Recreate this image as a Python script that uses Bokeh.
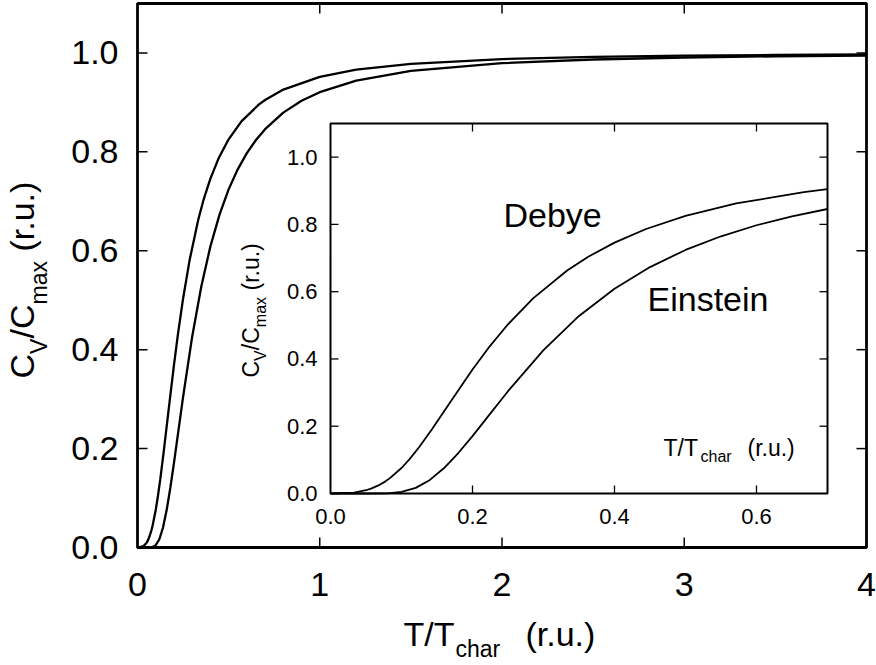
import math
from bokeh.plotting import figure
from bokeh.models import Range1d
from bokeh.core.properties import value
from bokeh.embed import file_html
from bokeh.resources import INLINE

# ---------------- data ----------------
debye_t = [0.0, 0.0333, 0.05, 0.0571, 0.0667, 0.0769, 0.0833, 0.1, 0.1111, 0.125,
           0.1429, 0.1667, 0.2, 0.2222, 0.25, 0.2857, 0.3333, 0.3636, 0.4, 0.4444,
           0.5, 0.5714, 0.6667, 0.7, 0.8, 1.0, 1.2, 1.5, 2.0, 2.5, 3.0, 3.5, 4.0]
debye_c = [0.0, 0.0029, 0.0097, 0.0145, 0.0232, 0.0354, 0.0450, 0.0758, 0.1015, 0.1382,
           0.1909, 0.2656, 0.3686, 0.4320, 0.5031, 0.5807, 0.6628, 0.7046, 0.7459, 0.7864,
           0.8254, 0.8622, 0.8960, 0.9049, 0.9260, 0.9517, 0.9661, 0.9781, 0.9876, 0.9920,
           0.9944, 0.9959, 0.9969]

einstein_t = [0.0, 0.05, 0.08, 0.1, 0.12, 0.14, 0.16, 0.18, 0.2, 0.22, 0.25, 0.3, 0.35,
              0.4, 0.45, 0.5, 0.55, 0.6, 0.65, 0.7, 0.8, 0.9, 1.0, 1.2, 1.5, 2.0, 2.5,
              3.0, 3.5, 4.0]
einstein_c = [0.0, 0.0, 0.0006, 0.0045, 0.0167, 0.0404, 0.0757, 0.1203, 0.1707, 0.2241,
              0.3041, 0.4263, 0.5278, 0.6089, 0.6731, 0.7241, 0.7647, 0.7975, 0.8240,
              0.8458, 0.8794, 0.9032, 0.9207, 0.9441, 0.9638, 0.9794, 0.9868, 0.9908,
              0.9932, 0.9948]

main_xticks = [0, 1, 2, 3, 4]
main_xlabels = ["0", "1", "2", "3", "4"]
main_yticks = [0.0, 0.2, 0.4, 0.6, 0.8, 1.0]
main_ylabels = ["0.0", "0.2", "0.4", "0.6", "0.8", "1.0"]
inset_xticks = [0.0, 0.2, 0.4, 0.6]
inset_xlabels = ["0.0", "0.2", "0.4", "0.6"]
inset_yticks = [0.0, 0.2, 0.4, 0.6, 0.8, 1.0]
inset_ylabels = ["0.0", "0.2", "0.4", "0.6", "0.8", "1.0"]

MAIN_X = (0.0, 4.0)
MAIN_Y = (0.0, 1.1)
INSET_X = (0.0, 0.7)
INSET_Y = (0.0, 1.1)

# ---------------- layout (pixels from top-left) ----------------
W, H = 876, 665
FL, FR, FT, FB = 137, 866, 3, 547          # main frame
IL, IR, IT, IB = 330, 827, 123, 493        # inset frame
FONT = "Liberation Sans"
BASE_FIX = 0.42   # measured baseline correction, fraction of font size


def Y(py):
    return H - py


# canvas-sized figure whose data units are pixels
p = figure(width=W, height=H, x_range=Range1d(0, W), y_range=Range1d(0, H),
           x_axis_type=None, y_axis_type=None, min_border=0,
           output_backend="svg", toolbar_location=None, title=None)
p.outline_line_color = None
p.background_fill_color = "white"
p.border_fill_color = "white"


def panel(xsrc, ysrc, l, r, t, b):
    return p.subplot(x_source=Range1d(*xsrc), y_source=Range1d(*ysrc),
                     x_target=Range1d(l, r), y_target=Range1d(Y(b), Y(t)))


def ticks(ax, xsrc, ysrc, xt, yt, length, width):
    kw = dict(length=length, length_units="screen", line_color="black", line_width=width)
    ax.ray(x=xt, y=[ysrc[0]] * len(xt), angle=math.pi / 2, **kw)
    ax.ray(x=xt, y=[ysrc[1]] * len(xt), angle=-math.pi / 2, **kw)
    ax.ray(x=[xsrc[0]] * len(yt), y=yt, angle=0, **kw)
    ax.ray(x=[xsrc[1]] * len(yt), y=yt, angle=math.pi, **kw)


# ---------------- main plot ----------------
m = panel(MAIN_X, MAIN_Y, FL, FR, FT, FB)
m.line(debye_t, debye_c, line_color="black", line_width=2.3)
m.line(einstein_t, einstein_c, line_color="black", line_width=2.3)
m.quad(left=MAIN_X[0], right=MAIN_X[1], bottom=MAIN_Y[0], top=MAIN_Y[1],
       fill_color=None, line_color="black", line_width=2.8)
ticks(m, MAIN_X, MAIN_Y, main_xticks[1:-1], main_yticks[1:], 10, 1.5)
m.text(x=main_xticks, y=[MAIN_Y[0]] * len(main_xticks), text=main_xlabels,
       y_offset=25, text_align="center", text_baseline="top",
       text_font=value(FONT), text_font_size=value("34px"), text_color="black")
m.text(x=[MAIN_X[0]] * len(main_yticks), y=main_yticks, text=main_ylabels,
       x_offset=-19, text_align="right", text_baseline="middle",
       text_font=value(FONT), text_font_size=value("34px"), text_color="black")

# ---------------- inset ----------------
s = panel(INSET_X, INSET_Y, IL, IR, IT, IB)
s.quad(left=INSET_X[0], right=INSET_X[1], bottom=INSET_Y[0], top=INSET_Y[1],
       fill_color="white", line_color="black", line_width=2)
d_in = [(t, c) for t, c in zip(debye_t, debye_c) if t <= INSET_X[1]]
e_in = [(t, c) for t, c in zip(einstein_t, einstein_c) if t <= INSET_X[1]]
s.line([a for a, b in d_in], [b for a, b in d_in], line_color="black", line_width=1.8)
s.line([a for a, b in e_in], [b for a, b in e_in], line_color="black", line_width=1.8)
ticks(s, INSET_X, INSET_Y, inset_xticks[1:], inset_yticks[1:], 8, 1.3)
s.text(x=[INSET_X[0]] * len(inset_yticks), y=inset_yticks, text=inset_ylabels,
       x_offset=-13, text_align="right", text_baseline="middle",
       text_font=value(FONT), text_font_size=value("22px"), text_color="black")
s.text(x=inset_xticks, y=[INSET_Y[0]] * len(inset_xticks), text=inset_xlabels,
       y_offset=15, text_align="center", text_baseline="top",
       text_font=value(FONT), text_font_size=value("22px"), text_color="black")


# ---------------- free texts (pixel positions of baselines) ----------------
def txt(pieces, size, angle=0.0):
    fix = BASE_FIX * size
    if angle == 0.0:
        xs = [a for a, b, c in pieces]
        ys = [Y(b - fix) for a, b, c in pieces]
    else:
        xs = [a - fix for a, b, c in pieces]
        ys = [Y(b) for a, b, c in pieces]
    p.text(x=xs, y=ys, text=[c for a, b, c in pieces], angle=angle,
           text_align="left", text_baseline="alphabetic",
           text_font=value(FONT), text_font_size=value(f"{size}px"), text_color="black")


R = math.pi / 2
# main x label: T/T_char (r.u.)
txt([(403, 648, "T/T"), (525, 648, "(r.u.)")], 34)
txt([(455, 658, "char")], 23)
# main y label: C_V/C_max (r.u.)
txt([(36, 378, "C"), (36, 338, "/C"), (36, 251, "(r.u.)")], 34, R)
txt([(48, 353.5, "V"), (48, 304, "max")], 23, R)
# inset x label
txt([(663, 457, "T/T"), (747, 457, "(r.u.)")], 23)
txt([(700, 463, "char")], 16)
# inset y label
txt([(260, 377, "C"), (260, 349.7, "/C"), (260, 290, "(r.u.)")], 23, R)
txt([(267, 360.4, "V"), (267, 326.7, "max")], 16, R)
# curve names
txt([(503, 229, "Debye"), (647, 313, "Einstein")], 34)

open("out.html", "w").write(file_html(p, INLINE))
